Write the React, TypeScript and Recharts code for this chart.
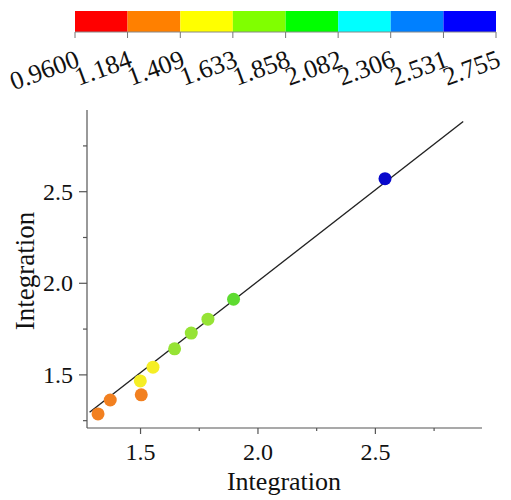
import React from 'react';
import { ScatterChart, Scatter, XAxis, YAxis, ReferenceLine, ReferenceArea, Label } from 'recharts';

// ---- data ----
const measuredX = [1.319, 1.371, 1.503, 1.499, 1.553, 1.645, 1.716, 1.787, 1.896, 2.541];
const predictedY = [1.287, 1.363, 1.391, 1.467, 1.542, 1.642, 1.728, 1.804, 1.913, 2.571];
const fitX = [1.283, 2.874];
const fitY = [1.296, 2.883];
const colorBounds = [0.96, 1.184, 1.409, 1.633, 1.858, 2.082, 2.306, 2.531, 2.755];
const colorBoundLabels = ['0.9600', '1.184', '1.409', '1.633', '1.858', '2.082', '2.306', '2.531', '2.755'];
const xTicks = [1.5, 1.75, 2.0, 2.25, 2.5, 2.75];
const yTicks = [1.25, 1.5, 1.75, 2.0, 2.25, 2.5, 2.75];
const majorTicks = [1.5, 2.0, 2.5];
const xTitle = 'Integration';
const yTitle = 'Integration';

// ---- styles ----
const barColors = ['#ff0000', '#ff8000', '#ffff00', '#80ff00', '#00ff00', '#00ffff', '#0080ff', '#0000ff'];
const markerColors = ['#f01010', '#f28020', '#f5ee25', '#96e335', '#5edb30', '#30e8e8', '#2080f0', '#0808cc'];
const FONT = '"Liberation Serif", "Times New Roman", serif';
const AXIS = '#555';

const binOf = (v: number) => {
  for (let i = 0; i < colorBounds.length - 1; i++) {
    if (v >= colorBounds[i] && v < colorBounds[i + 1]) return i;
  }
  return colorBounds.length - 2;
};

const points = measuredX.map((x, i) => ({ x, y: predictedY[i], fill: markerColors[binOf(predictedY[i])] }));
const cbData = colorBounds.map((v) => ({ v, y: 0.5 }));

const isMajor = (v: number) => majorTicks.some((m) => Math.abs(m - v) < 1e-6);

const XTick = (props: any) => {
  const { x, y, payload } = props;
  const major = isMajor(payload.value);
  return (
    <g>
      <line x1={x} x2={x} y1={y} y2={y + (major ? 6 : 3)} stroke={AXIS} strokeWidth={1.2} />
      {major && (
        <text x={x} y={y + 32} textAnchor="middle" fontSize={24} fontFamily={FONT} fill="#111">
          {payload.value.toFixed(1)}
        </text>
      )}
    </g>
  );
};

const YTick = (props: any) => {
  const { x, y, payload } = props;
  const major = isMajor(payload.value);
  return (
    <g>
      <line x1={x} x2={x - (major ? 8 : 4)} y1={y} y2={y} stroke={AXIS} strokeWidth={1.2} />
      {major && (
        <text x={x - 14} y={y + 8} textAnchor="end" fontSize={24} fontFamily={FONT} fill="#111">
          {payload.value.toFixed(1)}
        </text>
      )}
    </g>
  );
};

const CbTick = (props: any) => {
  const { x, y, payload, index } = props;
  const tx = x + 6;
  const ty = y + 34;
  return (
    <g>
      <line x1={x} x2={x} y1={y} y2={y + 6} stroke="#777" strokeWidth={1} />
      <text
        x={tx}
        y={ty}
        textAnchor="end"
        fontSize={26}
        fontFamily={FONT}
        fill="#111"
        transform={`rotate(-20, ${tx}, ${ty})`}
      >
        {colorBoundLabels[index] ?? String(payload.value)}
      </text>
    </g>
  );
};

const Dot = (props: any) => {
  const { cx, cy, payload } = props;
  return <circle cx={cx} cy={cy} r={6.5} fill={payload.fill} />;
};

const Empty = () => <g />;

export default function App() {
  return (
    <div style={{ position: 'absolute', left: 0, top: 0, width: 511, height: 500, background: '#fff' }}>
      <div style={{ position: 'absolute', left: 0, top: 0 }}>
        <ScatterChart width={511} height={500} margin={{ top: 110, right: 29, left: 27, bottom: 32 }}>
          <XAxis
            type="number"
            dataKey="x"
            domain={[1.272, 2.954]}
            allowDataOverflow
            ticks={xTicks}
            interval={0}
            tick={<XTick />}
            tickLine={false}
            tickSize={0}
            tickMargin={0}
            height={40}
            axisLine={{ stroke: AXIS, strokeWidth: 1.2 }}
          >
            <Label
              content={() => (
                <text x={284} y={490} textAnchor="middle" fontSize={26} fontFamily={FONT} fill="#111">
                  {xTitle}
                </text>
              )}
            />
          </XAxis>
          <YAxis
            type="number"
            dataKey="y"
            domain={[1.21, 2.946]}
            allowDataOverflow
            ticks={yTicks}
            interval={0}
            tick={<YTick />}
            tickLine={false}
            tickSize={0}
            tickMargin={0}
            width={60}
            axisLine={{ stroke: AXIS, strokeWidth: 1.2 }}
          >
            <Label
              content={() => (
                <text
                  x={25}
                  y={271}
                  textAnchor="middle"
                  dominantBaseline="central"
                  fontSize={27}
                  fontFamily={FONT}
                  fill="#111"
                  transform="rotate(-90, 25, 271)"
                >
                  {yTitle}
                </text>
              )}
            />
          </YAxis>
          <ReferenceLine
            segment={[
              { x: fitX[0], y: fitY[0] },
              { x: fitX[1], y: fitY[1] },
            ]}
            stroke="#222"
            strokeWidth={1.4}
            ifOverflow="visible"
          />
          <Scatter data={points} shape={<Dot />} isAnimationActive={false} />
        </ScatterChart>
      </div>
      <div style={{ position: 'absolute', left: 0, top: 0 }}>
        <ScatterChart width={511} height={100} margin={{ top: 11, right: 15, left: 75, bottom: 18 }}>
          <XAxis
            type="number"
            dataKey="v"
            domain={[colorBounds[0], colorBounds[colorBounds.length - 1]]}
            ticks={colorBounds}
            interval={0}
            tick={<CbTick />}
            tickLine={false}
            tickSize={0}
            tickMargin={0}
            height={50}
            axisLine={{ stroke: '#888', strokeWidth: 1 }}
          />
          <YAxis type="number" dataKey="y" domain={[0, 1]} hide />
          {barColors.map((c, i) => (
            <ReferenceArea
              key={i}
              x1={colorBounds[i]}
              x2={colorBounds[i + 1]}
              y1={0}
              y2={1}
              fill={c}
              fillOpacity={1}
              stroke="none"
            />
          ))}
          <Scatter data={cbData} shape={<Empty />} isAnimationActive={false} />
        </ScatterChart>
      </div>
    </div>
  );
}
